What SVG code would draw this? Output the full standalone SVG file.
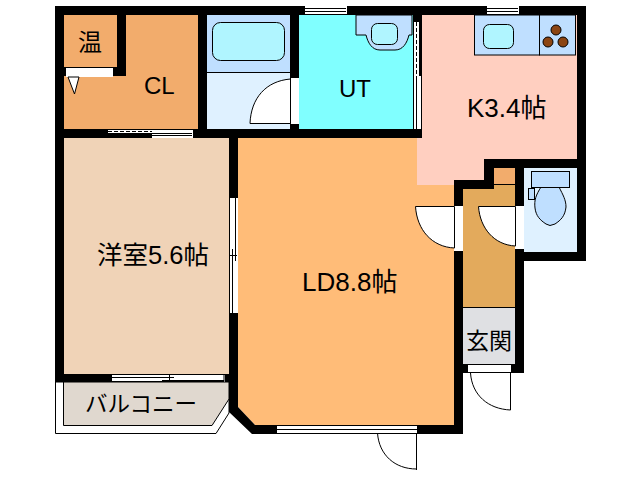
<svg xmlns="http://www.w3.org/2000/svg" width="640" height="480" viewBox="0 0 640 480">
<style>
.l{fill:none;stroke:#000;stroke-width:1}
.d{fill:#fff;stroke:#000;stroke-width:1}
.w{fill:#fff}
.f{stroke:#000;stroke-width:1}
text{font-family:"Liberation Sans","Noto Sans CJK JP",sans-serif;fill:#000}
</style>
<rect width="640" height="480" fill="#fff"/>
<g id="rooms">
<rect x="64" y="15" width="134" height="114" fill="#f2ac6c"/>
<rect x="64" y="138" width="165" height="239" fill="#f0d3b7"/>
<path d="M238 138H422V185H454V425H255L238 407Z" fill="#ffbc78"/>
<path d="M417 15H577V159H484V185H417V138H422V15Z" fill="#ffcfc0"/>
<rect x="299" y="15" width="114" height="114" fill="#80ffff"/>
<rect x="207" y="15" width="83" height="57" fill="#bfdfff"/>
<rect x="207" y="72" width="83" height="57" fill="#dff1ff"/>
<path d="M207 72.500H290" stroke="#000" fill="none"/>
<rect x="524" y="168" width="53" height="84" fill="#dff1ff"/>
<rect x="494" y="168" width="21" height="17" fill="#f2ac6c"/>
<rect x="463" y="185" width="52" height="122" fill="#e3aa5c"/>
<path d="M494 184.500H515M463 307.500H515" stroke="#000" fill="none"/>
<rect x="463" y="308" width="52" height="56" fill="#dfe0e3"/>
</g>
<g id="balcony">
<path d="M55.500 382V433.500H216L229 413V382Z" fill="#fff" stroke="#000"/>
<path d="M63.500 382V425.500H212L229 399V382Z" fill="#e0d8cf" stroke="#000"/>
</g>
<g id="walls" fill="#000" shape-rendering="crispEdges">
<rect x="55" y="6" width="531" height="9"/>
<rect x="55" y="6" width="9" height="376"/>
<rect x="55" y="129" width="367" height="9"/>
<rect x="55" y="374" width="183" height="8"/>
<rect x="117" y="15" width="9" height="61"/>
<rect x="64" y="67" width="62" height="9"/>
<rect x="198" y="15" width="9" height="120"/>
<rect x="290" y="15" width="9" height="120"/>
<rect x="413" y="15" width="9" height="120"/>
<rect x="229" y="138" width="9" height="270"/>
<rect x="577" y="6" width="9" height="255"/>
<rect x="484" y="159" width="102" height="9"/>
<rect x="484" y="159" width="10" height="30"/>
<rect x="454" y="180" width="40" height="9"/>
<rect x="454" y="180" width="9" height="254"/>
<rect x="515" y="159" width="9" height="214"/>
<rect x="515" y="252" width="71" height="9"/>
<rect x="463" y="364" width="61" height="9"/>
<rect x="252" y="425" width="211" height="9"/>
</g>
<path id="corner-wall" d="M229 405H238V407L255 425V434H252L229 412Z" fill="#000"/>
<g id="openings">
<g id="cl-closet-door">
<rect x="66" y="68" width="47" height="9" class="w"/>
<path d="M68 77H79L74.500 94Z" class="d"/>
</g>
<g id="cl-door">
<rect x="108" y="130" width="85" height="8" class="w"/>
<path d="M108 133.500H192M152 135.500H192M193.500 129V138" class="l"/>
<rect x="108" y="134" width="44" height="4" fill="#000"/>
<path d="M108 131.500H152" stroke="#000" stroke-dasharray="4 2" fill="none"/>
</g>
<g id="bath-door">
<rect x="291" y="78" width="8" height="46" class="w"/>
<path d="M290.500 123.500H250C251 98 266 81 290.500 79Z" class="d"/>
</g>
<g id="top-window-ut">
<rect x="305" y="6" width="42" height="9" class="w"/>
<path d="M305 8.500H346M305 11.500H346M305 14.500H347" class="l"/>
</g>
<g id="top-window-k">
<rect x="487" y="6" width="32" height="9" class="w"/>
<path d="M487 8.500H518M487 11.500H518M487 14.500H519" class="l"/>
</g>
<g id="ut-door">
<rect x="414" y="22" width="5" height="54" class="w"/>
<path d="M416.500 22V76" stroke="#000" stroke-dasharray="4 2" fill="none"/>
<rect x="414" y="76" width="7" height="53" class="w"/>
<path d="M413.500 76V129M416.500 76V129" class="l"/>
</g>
<g id="west-window">
<rect x="230" y="198" width="8" height="115" class="w"/>
<path d="M229.500 313.500H238M232.500 313V249M235.500 198V261M229 255.500H237" class="l"/>
</g>
<g id="balcony-window">
<rect x="112" y="375" width="113" height="7" class="w"/>
<path d="M112 374.500H224V382M112 381.500H224M162 380.500H224M112 377.500H174M169.500 375V382" class="l"/>
</g>
<g id="ld-window">
<rect x="277" y="426" width="140" height="7" class="w"/>
<path d="M277 425.500H417M277 429.500H417M277 433.500H417" class="l"/>
</g>
<g id="ld-hall-door">
<rect x="454" y="206" width="9" height="45" class="w"/>
<path d="M454.500 206.500H415.500C417 230 432 247 454.500 248Z" class="d"/>
</g>
<g id="toilet-door">
<rect x="515" y="206" width="9" height="43" class="w"/>
<path d="M515.500 206.500H478.500C480 228 494 245 515.500 246Z" class="d"/>
</g>
<g id="entry-door">
<rect x="468" y="365" width="43" height="8" class="w"/>
<path d="M468 364.500H511M468 372.500H511" class="l"/>
<path d="M510.500 373V410M470.500 373C472 395 488 409 510.500 410" class="l"/>
</g>
<g id="ld-door">
<path d="M416.500 433V470M377.500 433C379 455 395 469 416.500 469" class="l"/>
</g>
</g>
<g id="fixtures">
<g id="bathtub"><rect x="212.500" y="22.500" width="72" height="38" rx="8" fill="#b0f5ff" class="f"/></g>
<g id="basin">
<path d="M356 15V35H366C368 43 372 50 380 50H395C403 50 407 43 409 35H412V15Z" fill="#bfdfff" stroke="#000"/>
<rect x="371.500" y="23.500" width="26" height="21" rx="6" fill="#b0f5ff" class="f"/>
</g>
<g id="sink">
<rect x="474.500" y="15" width="65" height="40" fill="#bfdfff" class="f"/>
<rect x="483.500" y="24.500" width="30" height="24" rx="6" fill="#b0f5ff" class="f"/>
</g>
<g id="stove">
<rect x="539.500" y="15" width="36" height="40" fill="#bfdfff" class="f"/>
<circle cx="556" cy="30" r="5" fill="#8b4513" class="f"/>
<circle cx="548" cy="42" r="5" fill="#8b4513" class="f"/>
<circle cx="563" cy="42" r="5" fill="#8b4513" class="f"/>
</g>
<g id="toilet">
<path d="M541 187C536 195 534 200 535 208C536 216 540 220 546 224L550 225.500L555 224C561 220 565 216 566 207C566 200 563 195 559 187Z" fill="#bfdfff" class="f"/>
<rect x="528.500" y="188.500" width="6" height="11" fill="#bfdfff" class="f"/>
<rect x="531.500" y="171.500" width="38" height="16" fill="#bfdfff" class="f"/>
</g>
</g>
<g id="labels">
<text x="78" y="51" font-size="24">温</text>
<text x="144" y="94" font-size="24">CL</text>
<text x="339" y="97" font-size="24">UT</text>
<text x="467" y="117" font-size="26">K3.4帖</text>
<text x="97" y="264" font-size="25.500">洋室5.6帖</text>
<text x="302" y="291" font-size="26">LD8.8帖</text>
<text x="466" y="349" font-size="23">玄関</text>
<text x="85" y="412" font-size="22.500">バルコニー</text>
</g>
</svg>
